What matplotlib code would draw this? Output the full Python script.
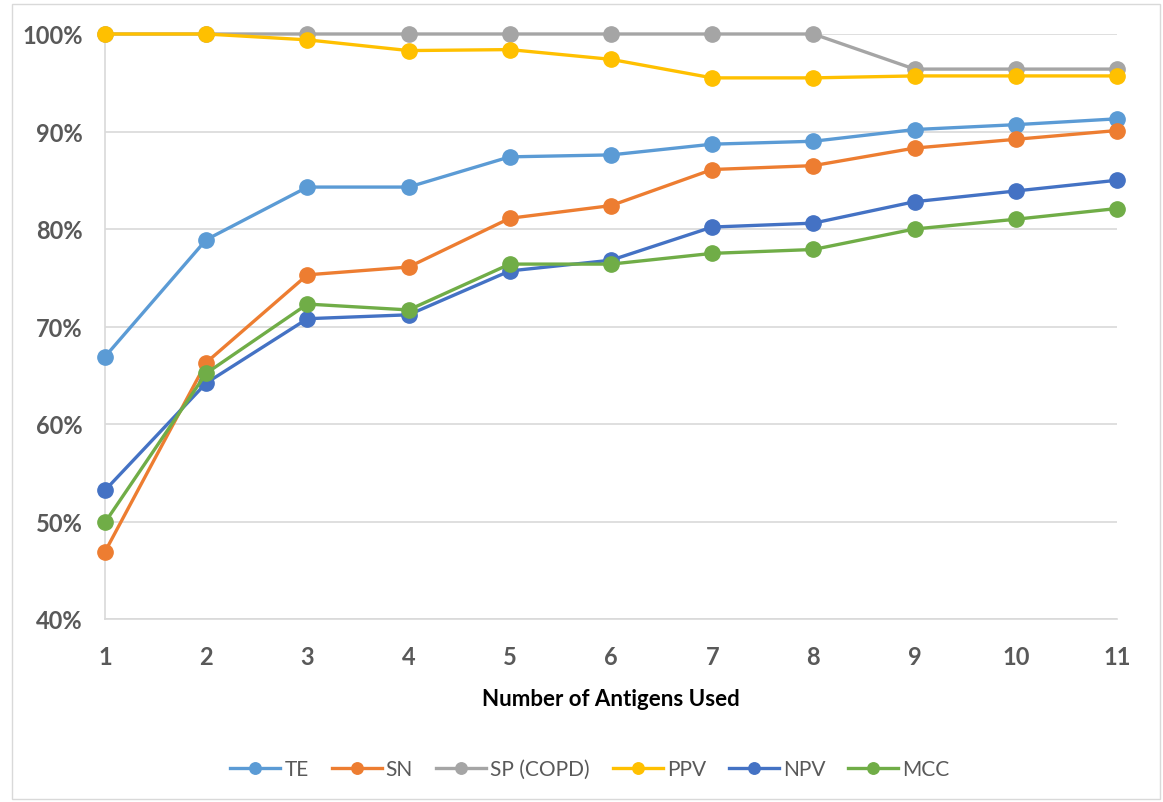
import matplotlib
matplotlib.use("Agg")
import matplotlib.pyplot as plt
from matplotlib.patches import Rectangle
from matplotlib.ticker import FuncFormatter

x = [1, 2, 3, 4, 5, 6, 7, 8, 9, 10, 11]
TE = [66.9, 78.9, 84.3, 84.3, 87.4, 87.6, 88.7, 89.0, 90.2, 90.7, 91.3]
SN = [46.9, 66.3, 75.3, 76.1, 81.1, 82.4, 86.1, 86.5, 88.3, 89.2, 90.1]
SP = [100.0, 100.0, 100.0, 100.0, 100.0, 100.0, 100.0, 100.0, 96.4, 96.4, 96.4]
PPV = [100.0, 100.0, 99.4, 98.3, 98.4, 97.4, 95.5, 95.5, 95.7, 95.7, 95.7]
NPV = [53.2, 64.2, 70.8, 71.2, 75.7, 76.8, 80.2, 80.6, 82.8, 83.9, 85.0]
MCC = [49.9, 65.2, 72.3, 71.7, 76.4, 76.4, 77.5, 77.9, 80.0, 81.0, 82.1]

names = ["TE", "SN", "SP (COPD)", "PPV", "NPV", "MCC"]
series = [TE, SN, SP, PPV, NPV, MCC]
colors = ["#5B9BD5", "#ED7D31", "#A5A5A5", "#FFC000", "#4472C4", "#70AD47"]
yticks = [40, 50, 60, 70, 80, 90, 100]

plt.rcParams['font.family'] = ['Lato', 'DejaVu Sans']

fig = plt.figure(figsize=(11.63, 8.03), dpi=100)
fig.patches.append(Rectangle((12/1163, 3/803), 1148/1163, 795/803, transform=fig.transFigure,
                             fill=False, edgecolor="#D9D9D9", linewidth=1))
ax = fig.add_axes([105/1163, 1 - 620/803, (1117-105)/1163, (620-35)/803])

for name, s, c in zip(names, series, colors):
    ax.plot(x, s, color=c, lw=2.4, marker='o', ms=11, label=name, clip_on=False, zorder=3)

ax.set_xlim(1, 11)
ax.set_ylim(40, 100)
ax.set_yticks(yticks)
ax.set_xticks(x)
ax.yaxis.set_major_formatter(FuncFormatter(lambda v, p: f"{int(v)}%"))
ax.grid(axis='y', color="#D9D9D9", lw=1.2)
ax.set_axisbelow(True)
for sp in ['top', 'right']:
    ax.spines[sp].set_visible(False)
for sp in ['left', 'bottom']:
    ax.spines[sp].set_color("#D9D9D9")
    ax.spines[sp].set_linewidth(1.2)
ax.tick_params(length=0, labelcolor="#595959", labelsize=17, pad=16)
ax.tick_params(axis='x', pad=19)
for lab in ax.get_xticklabels() + ax.get_yticklabels():
    lab.set_fontweight('bold')
ax.set_xlabel("Number of Antigens Used", fontsize=16, fontweight='bold', color='black', labelpad=14)

leg = fig.legend(loc='center', bbox_to_anchor=(590/1163, 1 - 770/803), ncol=6, frameon=False,
                 fontsize=15, handlelength=2.4, columnspacing=1.1, handletextpad=0.2,
                 markerscale=0.75)
for t in leg.get_texts():
    t.set_color("#595959")

fig.savefig("out.png", dpi=100)
